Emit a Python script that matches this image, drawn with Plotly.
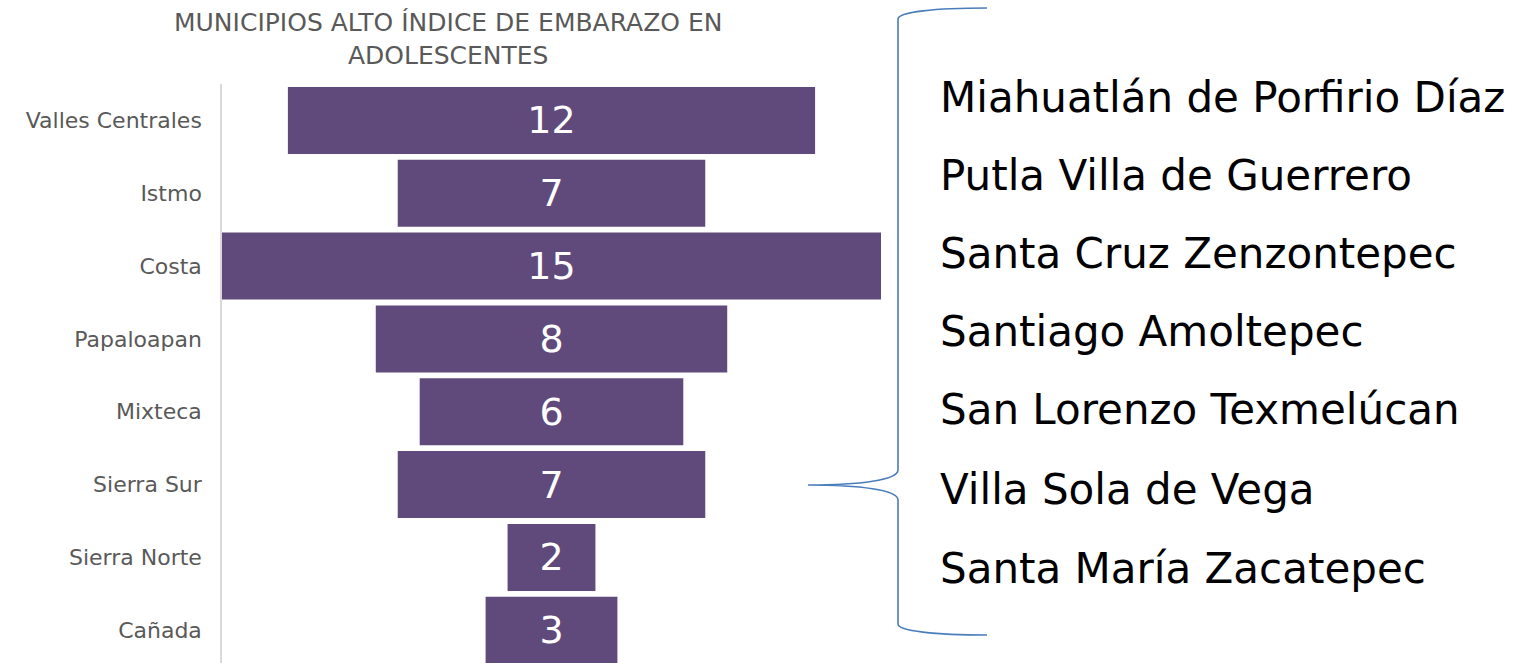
import plotly.graph_objects as go

regions = ["Valles Centrales", "Istmo", "Costa", "Papaloapan", "Mixteca",
           "Sierra Sur", "Sierra Norte", "Cañada"]
values = [12, 7, 15, 8, 6, 7, 2, 3]
municipios = ["Miahuatlán de Porfirio Díaz", "Putla Villa de Guerrero",
              "Santa Cruz Zenzontepec", "Santiago Amoltepec",
              "San Lorenzo Texmelúcan", "Villa Sola de Vega",
              "Santa María Zacatepec"]
title_text = "MUNICIPIOS ALTO ÍNDICE DE EMBARAZO EN<br>ADOLESCENTES"

W, H = 1524, 663
L, T, B, R = 222, 84, 0, 0
PW, PH = W - L - R, H - T - B

def px(x):
    return (x - L) / PW

def py(y):
    return (H - B - y) / PH

FONT = "DejaVu Sans"
PURPLE = "#604A7B"

fig = go.Figure()
fig.add_trace(go.Funnel(
    y=regions, x=values,
    textinfo="value", textposition="inside", insidetextanchor="middle",
    constraintext="none",
    insidetextfont=dict(color="white", size=38, family=FONT),
    marker=dict(color=PURPLE, line=dict(width=0)),
    connector=dict(visible=False),
    hoverinfo="y+x",
))

unit = (882 - 223) / 15.0
xmin = -7.5
xmax = xmin + PW / unit

# curly brace in pixel coordinates -> paper
pts = [
    ("M", [(987, 8)]),
    ("C", [(935, 8), (898, 12), (898, 19)]),
    ("L", [(898, 470)]),
    ("C", [(898, 480), (860, 485), (808, 485)]),
    ("M", [(808, 485)]),
    ("C", [(860, 485), (898, 490), (898, 500)]),
    ("L", [(898, 624)]),
    ("C", [(898, 631), (935, 635), (987, 635)]),
]
path = " ".join(cmd + " " + " ".join(f"{px(a):.5f},{py(b):.5f}" for a, b in p)
                for cmd, p in pts)

shapes = [dict(type="path", xref="paper", yref="paper", path=path,
               line=dict(color="#4A7EBB", width=1.6), layer="above")]

annotations = [dict(
    text=title_text, x=px(448), y=py(39), xref="paper", yref="paper",
    xanchor="center", yanchor="middle", showarrow=False,
    font=dict(family=FONT, size=25, color="#595959"), align="center")]

line_y = [97, 175, 253, 331, 410, 489, 568]
for name, yy in zip(municipios, line_y):
    annotations.append(dict(
        text=name, x=px(938), y=py(yy), xref="paper", yref="paper",
        xanchor="left", yanchor="middle", showarrow=False,
        font=dict(family=FONT, size=42, color="black")))

fig.update_layout(
    width=W, height=H,
    margin=dict(l=L, r=R, t=T, b=B, pad=0),
    paper_bgcolor="white", plot_bgcolor="white",
    funnelgap=0.08,
    showlegend=False,
    xaxis=dict(visible=False, range=[xmin, xmax], fixedrange=True),
    yaxis=dict(showline=True, linecolor="#D9D9D9", linewidth=1.5,
               showgrid=False, ticks="", ticklabelstandoff=14,
               range=[7.45, -0.5], autorange=False,
               tickfont=dict(family=FONT, size=22, color="#595959"),
               fixedrange=True),
    shapes=shapes, annotations=annotations,
)

fig.write_html("out.html")
